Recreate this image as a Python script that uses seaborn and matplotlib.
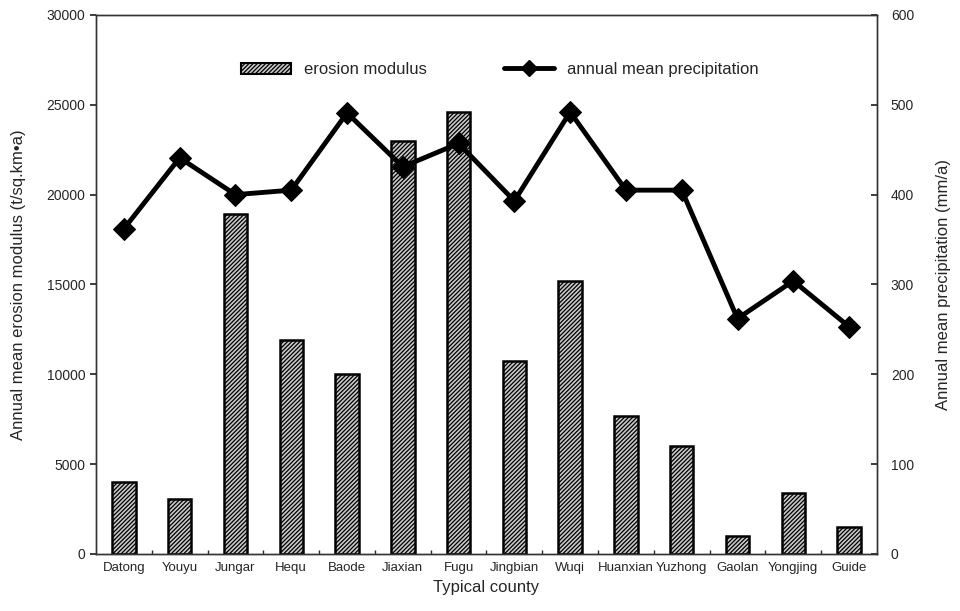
import numpy as np
import pandas as pd
import seaborn as sns
import matplotlib.pyplot as plt
from matplotlib.lines import Line2D
from matplotlib.patches import Patch

counties = ["Datong", "Youyu", "Jungar", "Hequ", "Baode", "Jiaxian", "Fugu",
            "Jingbian", "Wuqi", "Huanxian", "Yuzhong", "Gaolan", "Yongjing", "Guide"]
erosion = [4000, 3050, 18900, 11900, 10000, 23000, 24600,
           10750, 15200, 7700, 6000, 1000, 3400, 1500]
precip = [362, 441, 400, 405, 491, 431, 457, 393, 492, 405, 405, 262, 304, 253]

df = pd.DataFrame({"county": counties, "erosion": erosion, "precip": precip})

sns.set_theme(style="ticks")
plt.rcParams['font.family'] = ['Liberation Sans', 'DejaVu Sans']
plt.rcParams['hatch.linewidth'] = 0.9

fig = plt.figure(figsize=(9.6, 6.11), dpi=100)
ax = fig.add_axes([0.1, 0.0933, 0.8135, 0.8822])

# bars: erosion modulus
sns.barplot(data=df, x="county", y="erosion", ax=ax, color="#c8c8c8",
            width=0.42, edgecolor="black", linewidth=1.8)
for p in ax.patches:
    p.set_hatch("////////")

ax.set_xlim(-0.5, len(counties) - 0.5)
ax.set_ylim(0, 30000)
ax.set_yticks(range(0, 30001, 5000))
ax.set_xlabel("Typical county", fontsize=12, labelpad=4)
ax.set_ylabel("Annual mean erosion modulus (t/sq.km\u2022a)", fontsize=12, labelpad=15)
ax.tick_params(axis="x", which="major", length=0, labelsize=9.5, pad=6)
ax.set_xticks(np.arange(0.5, len(counties) - 0.5, 1), minor=True)
ax.tick_params(axis="x", which="minor", direction="in", length=3, width=1)
ax.tick_params(axis="y", labelsize=10, length=4, direction="out")

# line: precipitation on the right axis
ax2 = ax.twinx()
sns.lineplot(x=np.arange(len(counties)), y=precip, ax=ax2, color="black",
             linewidth=3.5, marker="D", markersize=11, markeredgecolor="black")
ax2.set_ylim(0, 600)
ax2.set_yticks(range(0, 601, 100))
ax2.set_ylabel("Annual mean precipitation (mm/a)", fontsize=12, labelpad=16)
ax2.tick_params(axis="y", labelsize=10, length=4, direction="in", pad=10)

for a in (ax, ax2):
    for s in a.spines.values():
        s.set_linewidth(1)
        s.set_color("#333333")

handles = [Patch(facecolor="#c8c8c8", edgecolor="black", hatch="////////", linewidth=1.5),
           Line2D([0], [0], color="black", linewidth=3.5, marker="D", markersize=8)]
ax2.legend(handles, ["erosion modulus", "annual mean precipitation"], ncol=2,
           loc="upper center", bbox_to_anchor=(0.517, 0.94), frameon=False,
           fontsize=12, columnspacing=4.6, handlelength=3)

fig.savefig("out.png", dpi=100)
